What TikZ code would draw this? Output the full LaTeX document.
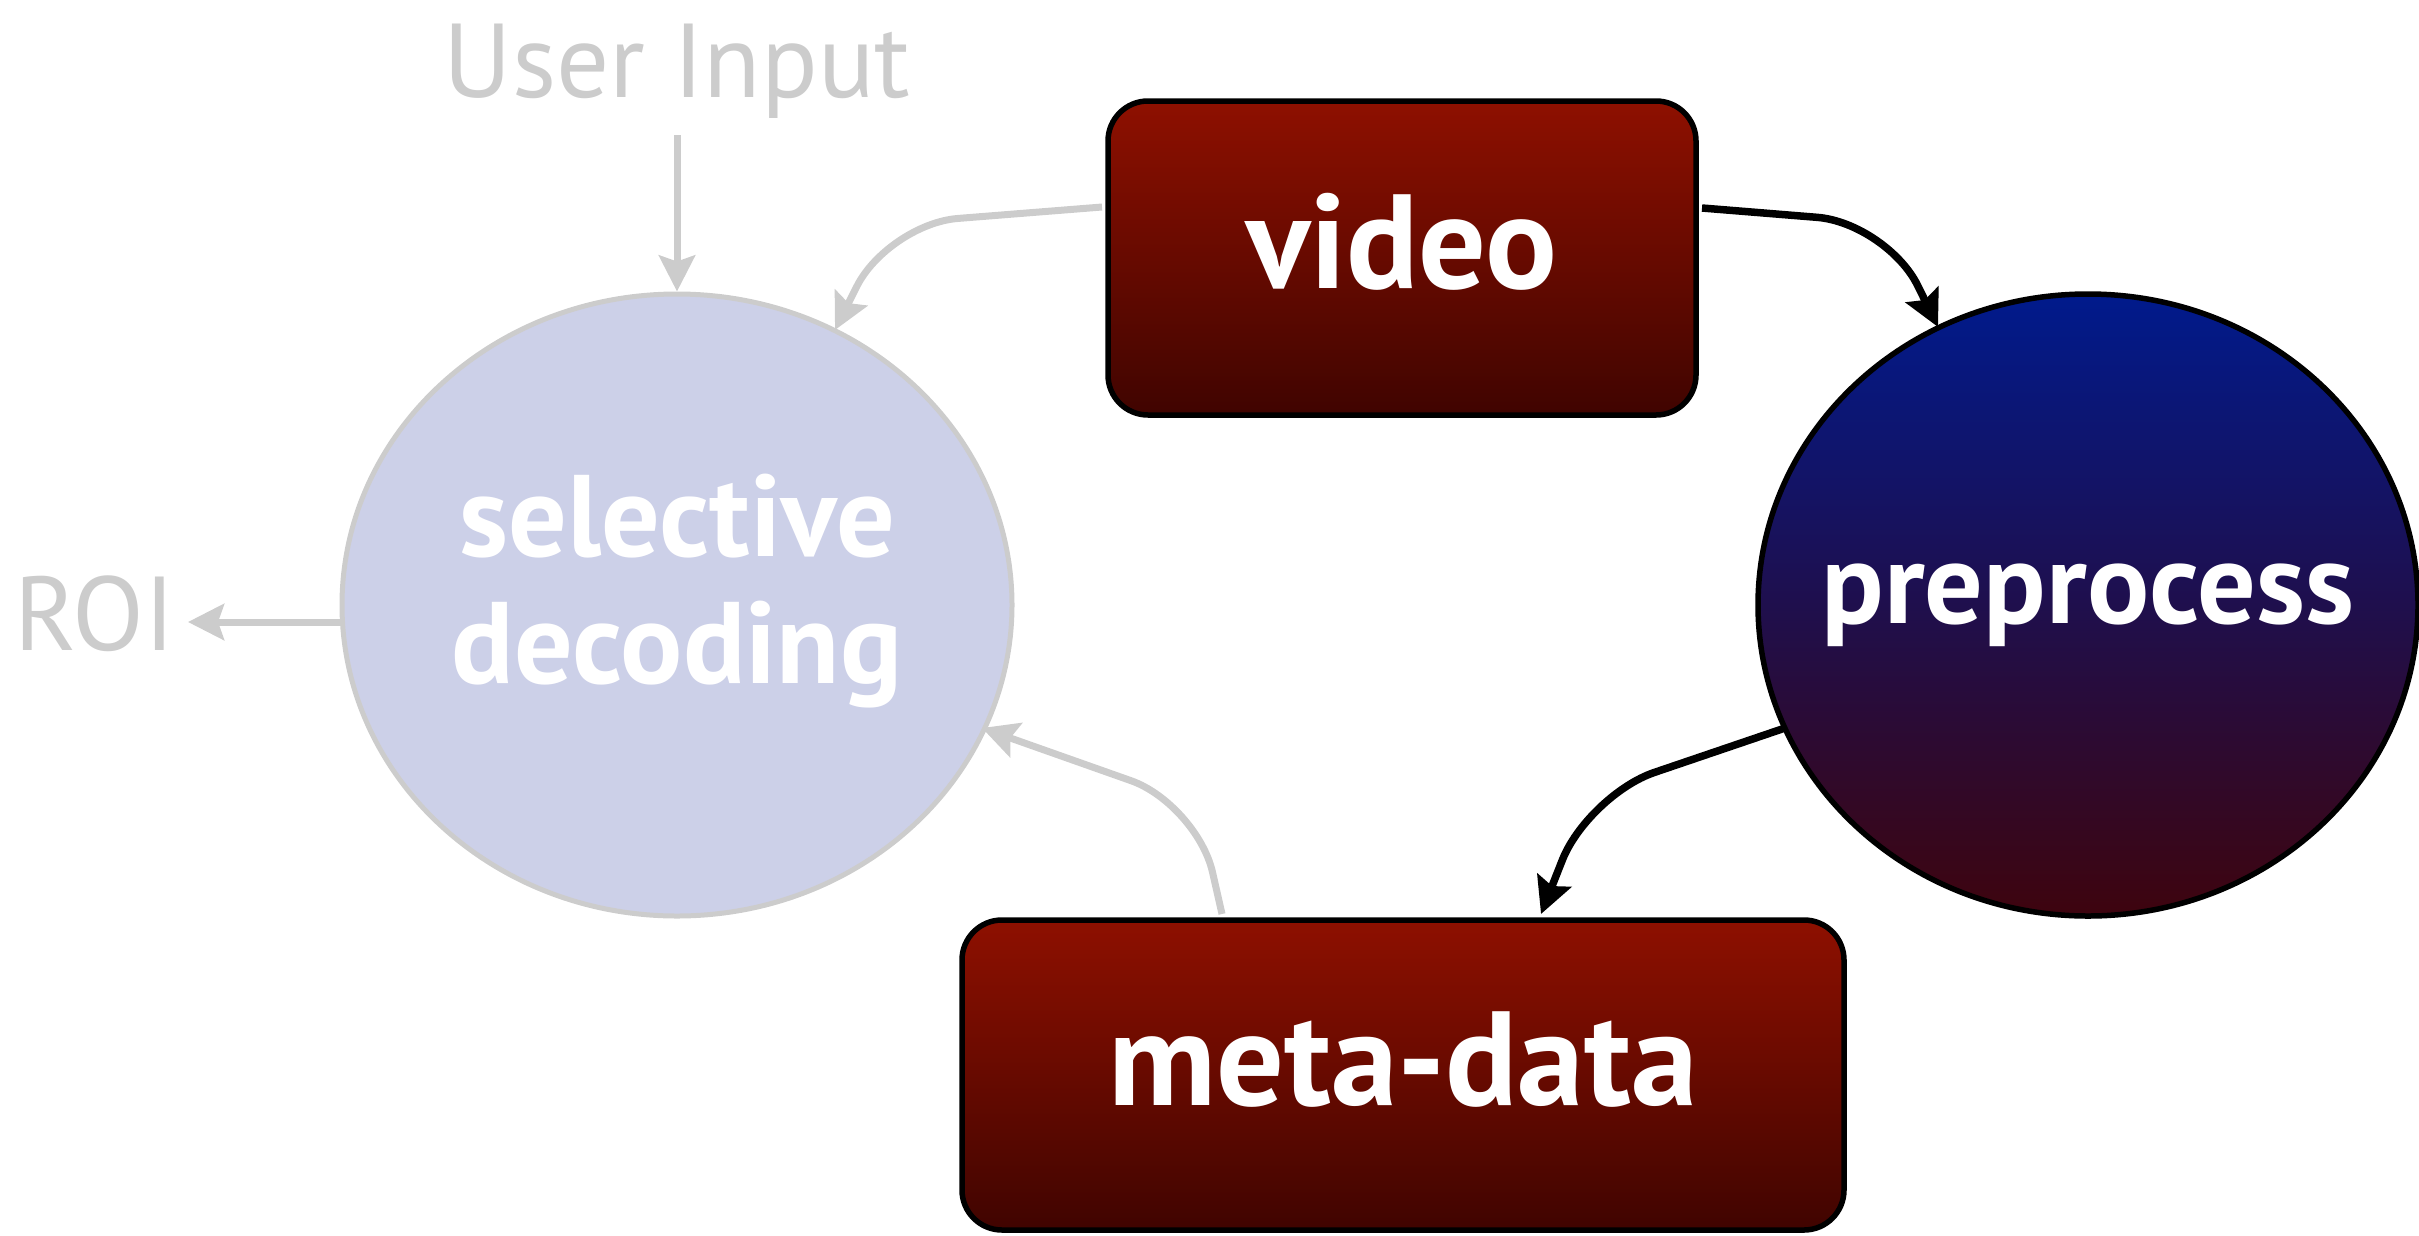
\documentclass[tikz,border=0pt]{standalone}
\usepackage{fontspec}
\setmainfont{PT Sans}
\usetikzlibrary{arrows.meta,shapes.geometric,positioning,calc}
\definecolor{boxtop}{RGB}{142,16,0}
\definecolor{boxbot}{RGB}{64,4,0}
\definecolor{pretop}{RGB}{0,26,140}
\definecolor{prebot}{RGB}{62,4,14}
\definecolor{selfill}{RGB}{204,208,232}
\definecolor{faint}{RGB}{204,204,204}
\tikzset{
  basic/.style  = {draw, line width=5.5pt, align=center, text=white},
  box/.style    = {basic, rectangle, rounded corners=40pt, outer sep=6pt,
                   top color=boxtop, bottom color=boxbot,
                   font=\bfseries\fontsize{134}{134}\selectfont,
                   text height=94pt, text depth=33pt},
  blob/.style   = {basic, ellipse, inner sep=0pt,
                   font=\bfseries\fontsize{116}{127}\selectfont},
  note/.style   = {text=faint, inner sep=0pt, font=\fontsize{105}{105}\selectfont},
  flow/.style   = {->, black, line width=7.5pt, rounded corners=70pt},
  faded/.style  = {->, faint, line width=7pt, rounded corners=70pt}
}

\begin{document}
\begin{tikzpicture}[x=1pt, y=-1pt,
  >={Stealth[length=36pt, width=36pt, inset=6pt]}]
\useasboundingbox (0,0) rectangle (2419,1235);

% the four stages
\node[box, minimum width=588pt, minimum height=314pt] (video) at (1402,258) {video};
\node[box, minimum width=882pt, minimum height=310pt] (meta) at (1403,1075) {meta-data};
\node[blob, fill=selfill, draw=faint, line width=5pt, text height=190pt, text depth=34pt,
      minimum width=670pt, minimum height=622pt] (sel) at (677,605) {selective\\decoding};
\node[blob, top color=pretop, bottom color=prebot,
      minimum width=660pt, minimum height=622pt] (pre) at (2088,605) {\makebox[0pt]{preprocess}};

% outside inputs and outputs
\node[note, anchor=base] (userin) at (677,97) {User Input};
\node[note, anchor=base east, outer sep=13pt] (roi) at (188,650) {ROI};

% connectors
\draw[faded] ([yshift=51pt]video.west) -- (888,224) -- ($(sel.center)+(158,-275)$);
\draw[flow] ([yshift=50pt]video.east) -- (1887,223) -- ($(pre.center)+(-150,-278)$);
\draw[flow] ($(pre.center)+(-303,123)$) -- (1588,795) -- ([xshift=138pt]meta.north);
\draw[faded] ([xshift=-181pt]meta.north) -- (1197,804) -- ($(sel.center)+(305,123)$);
\draw[faded] ([yshift=-38pt]userin.base) -- (sel.north);
\draw[faded] ($(sel.center)+(-335,17)$) -- (roi.east |- {$(sel.center)+(0,17)$});

\end{tikzpicture}
\end{document}
